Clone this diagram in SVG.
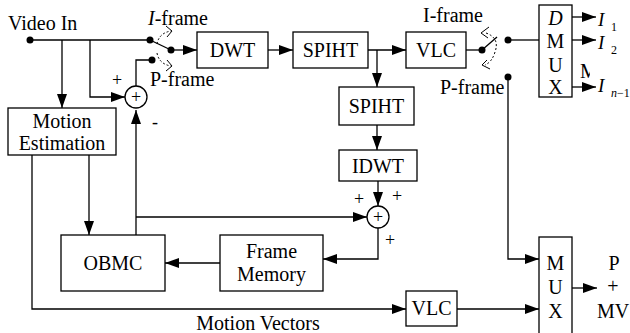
<svg xmlns="http://www.w3.org/2000/svg" width="630" height="333" viewBox="0 0 630 333">
<style>
text{font-family:'Liberation Serif','DejaVu Serif',serif;font-size:20px;fill:#000}
.c{text-anchor:middle}
.it{font-style:italic}
.box{fill:#fff;stroke:#000;stroke-width:1.3}
.ln{fill:none;stroke:#000;stroke-width:1.3}
.arr{fill:none;stroke:#000;stroke-width:1.3;marker-end:url(#ah)}
.dash{fill:none;stroke:#000;stroke-width:1;stroke-dasharray:2,2}
.chev{fill:none;stroke:#000;stroke-width:1}
.dot{fill:#000}
.sig{font-size:18px}
.sub{font-size:12px}
.big{font-size:19px}
</style>
<defs>
<marker id="ah" viewBox="0 0 14 10" refX="14" refY="5" markerWidth="14" markerHeight="10" orient="auto" markerUnits="userSpaceOnUse"><path d="M0,0 L14,5 L0,10 z" fill="#000"/></marker>
<clipPath id="vd"><rect x="578" y="55" width="12" height="30"/></clipPath>
</defs>

<g id="connectors">
<path class="ln" d="M30,40 H150"/>
<path class="arr" d="M62,40 V108"/>
<path class="arr" d="M90,40 V97 H125"/>
<path class="ln" d="M136,86 V60 H152"/>
<path class="ln" d="M150,40 L171,50"/>
<path class="arr" d="M171,50 H197"/>
<path class="arr" d="M268,50 H293"/>
<path class="arr" d="M368,50 H406"/>
<path class="arr" d="M377,50 V87"/>
<path class="arr" d="M377,125 V150"/>
<path class="arr" d="M378,181 V206"/>
<path class="arr" d="M136,235 V110"/>
<path class="arr" d="M136,217 H367"/>
<path class="arr" d="M378,228 V259 H323"/>
<path class="arr" d="M220,263 H165"/>
<path class="arr" d="M89,155 V235"/>
<path class="arr" d="M32,155 V309 H406"/>
<path class="arr" d="M457,309 H539"/>
<path class="ln" d="M466,50 H482"/>
<path class="ln" d="M482,50 L497,37"/>
<path class="ln" d="M508,40 H539"/>
<path class="arr" d="M508,77 V259 H539"/>
<path class="arr" d="M572,17 H596"/>
<path class="arr" d="M572,40 H596"/>
<path class="arr" d="M572,87 H596"/>
<path class="arr" d="M572,288 H597"/>
</g>

<g id="switch1">
<circle class="dot" cx="30" cy="40" r="3.5"/>
<circle class="dot" cx="150" cy="40" r="3.5"/>
<circle class="dot" cx="171" cy="50" r="3.5"/>
<circle class="dot" cx="152" cy="60" r="3.5"/>
<path class="dash" d="M157,44 Q159,33 171,31"/>
<path class="chev" d="M166,26 L172,31 L167,37"/>
<path class="dash" d="M157,53 Q159,64 171,66"/>
<path class="chev" d="M167,60 L172,66 L166,71"/>
<text x="148" y="25"><tspan class="it">I</tspan>-frame</text>
<text x="150" y="86">P-frame</text>
</g>

<g id="switch2">
<circle class="dot" cx="482" cy="50" r="3.5"/>
<circle class="dot" cx="508" cy="40" r="3.5"/>
<circle class="dot" cx="508" cy="77" r="3.5"/>
<path class="dash" d="M486,33 Q500,38 495,52 Q492,62 485,65"/>
<path class="chev" d="M489,27 L481,33 L488,38"/>
<path class="chev" d="M487,60 L482,65 L490,69"/>
<text x="423" y="22">I-frame</text>
<text x="440" y="94">P-frame</text>
</g>

<g id="video-in"><text x="8" y="30">Video In</text></g>

<g id="adder1">
<circle cx="136" cy="97" r="11" fill="#fff" stroke="#000" stroke-width="1.3"/>
<text class="c sig" x="136" y="103">+</text>
<text class="c sig" x="117" y="86">+</text>
<text class="c sig" x="155" y="128">-</text>
</g>

<g id="dwt"><rect class="box" x="197" y="32" width="71" height="36"/><text class="c" x="232.5" y="57">DWT</text></g>
<g id="spiht1"><rect class="box" x="293" y="32" width="75" height="36"/><text class="c" x="330.5" y="57">SPIHT</text></g>
<g id="vlc1"><rect class="box" x="406" y="32" width="60" height="36"/><text class="c" x="436" y="57">VLC</text></g>
<g id="spiht2"><rect class="box" x="339" y="87" width="75" height="38"/><text class="c" x="376.5" y="113">SPIHT</text></g>
<g id="idwt"><rect class="box" x="339" y="150" width="78" height="31"/><text class="c" x="378" y="173">IDWT</text></g>

<g id="adder2">
<circle cx="378" cy="217" r="11" fill="#fff" stroke="#000" stroke-width="1.3"/>
<text class="c sig" x="378" y="223">+</text>
<text class="c sig" x="359" y="205">+</text>
<text class="c sig" x="397" y="202">+</text>
<text class="c sig" x="390" y="246">+</text>
</g>

<g id="motion-estimation"><rect class="box" x="8" y="108" width="108" height="47"/><text class="c" x="62" y="128">Motion</text><text class="c" x="62" y="150">Estimation</text></g>
<g id="obmc"><rect class="box" x="61" y="235" width="104" height="56"/><text class="c" x="113" y="270">OBMC</text></g>
<g id="frame-memory"><rect class="box" x="220" y="235" width="103" height="56"/><text class="c" x="271.5" y="258">Frame</text><text class="c" x="271.5" y="281">Memory</text></g>
<g id="vlc2"><rect class="box" x="406" y="291" width="51" height="35"/><text class="c" x="431.5" y="315">VLC</text></g>
<g id="motion-vectors"><text class="c" x="258" y="330">Motion Vectors</text></g>

<g id="dmux">
<rect class="box" x="539" y="5" width="33" height="92"/>
<text class="c it" x="555.5" y="25">D</text>
<text class="c" x="555.5" y="48">M</text>
<text class="c" x="555.5" y="72">U</text>
<text class="c" x="555.5" y="94">X</text>
</g>
<g id="dmux-outputs">
<text class="it big" x="598" y="26">I</text><text class="sub" x="611" y="31">1</text>
<text class="it big" x="598" y="49">I</text><text class="sub" x="611" y="54">2</text>
<text x="580" y="78" clip-path="url(#vd)">M</text>
<text class="it big" x="598" y="92">I</text><text class="sub" x="611" y="97"><tspan class="it">n</tspan>−1</text>
</g>

<g id="mux">
<rect class="box" x="539" y="237" width="33" height="110"/>
<text class="c" x="555.5" y="270">M</text>
<text class="c" x="555.5" y="294">U</text>
<text class="c" x="555.5" y="318">X</text>
</g>
<g id="mux-output">
<text class="c" x="614" y="270">P</text>
<text class="c" x="613" y="293">+</text>
<text class="c" x="613" y="318">MV</text>
</g>
</svg>
